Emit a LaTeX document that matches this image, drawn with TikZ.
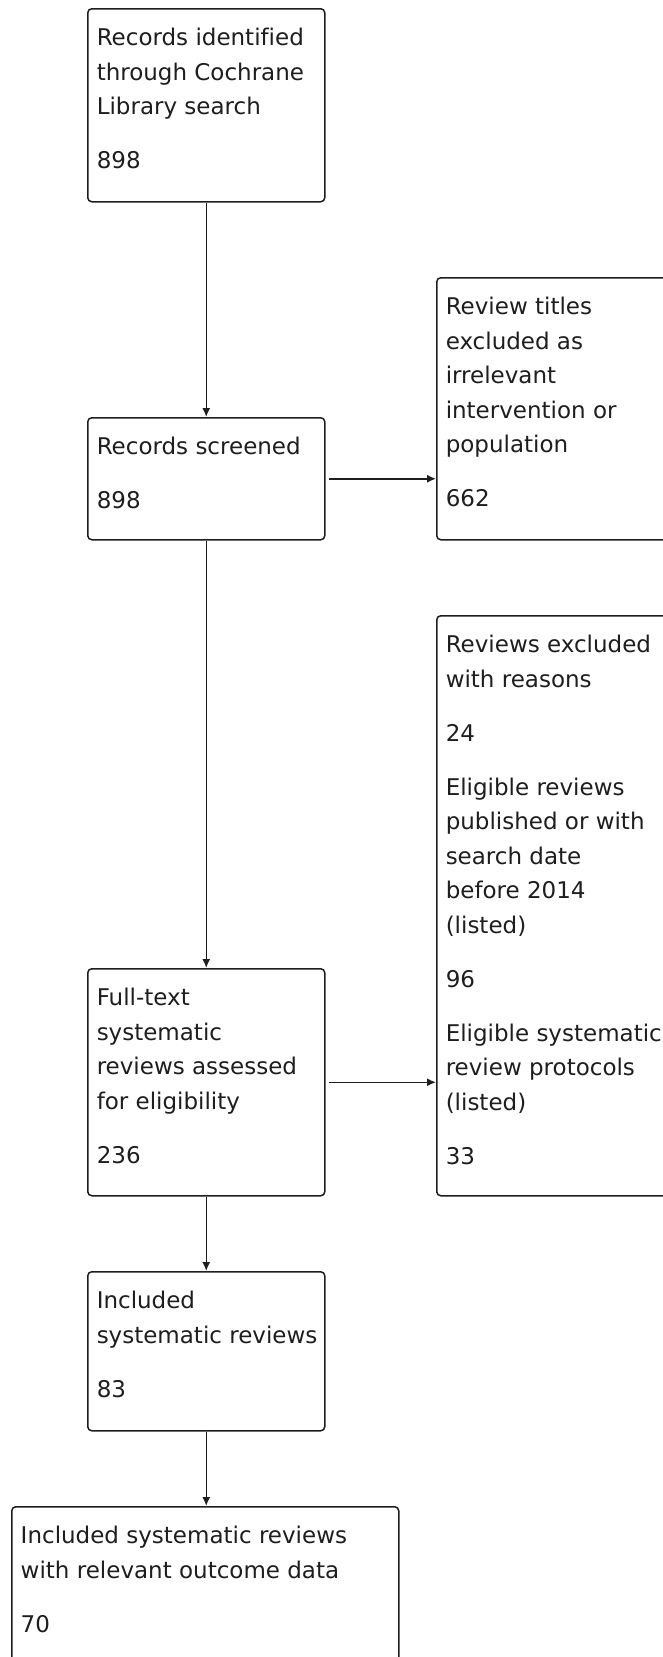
\documentclass[tikz,border=0pt]{standalone}
\usepackage{fontspec}
\setmainfont[Ligatures=NoCommon]{DejaVu Sans}
\usetikzlibrary{arrows.meta}
\definecolor{ink}{HTML}{1E1E1E}
\newcommand\bxt[3]{\parbox[c][#1pt][t]{#2pt}{\raggedright\leftskip=9pt\rule{0pt}{37pt}#3}}
\newcommand\pg{\\[19.5pt]}
\begin{document}
\begin{tikzpicture}[x=1pt,y=-1pt,
  flowbox/.style={draw=ink, line width=1.5pt, rounded corners=4pt, inner sep=0pt,
    anchor=north west, text=ink, font=\fontsize{23}{34.5}\selectfont},
  conn/.style={draw=ink, line width=1.5pt, -{Latex[length=9pt,width=8pt]}}]
\useasboundingbox (0,0) rectangle (662,1657);
\fill[white] (0,0) rectangle (662,1657);

\node[flowbox] (b1) at (87,8) {\bxt{193}{237}{Records identified\\through Cochrane\\Library search\pg 898}};
\node[flowbox] (b2) at (87,417) {\bxt{122}{237}{Records screened\pg 898}};
\node[flowbox] (b3) at (436,277) {\bxt{262}{250}{Review titles\\excluded as\\irrelevant\\intervention or\\population\pg 662}};
\node[flowbox] (b4) at (436,615) {\bxt{580}{250}{Reviews excluded\\with reasons\pg 24\pg Eligible reviews\\published or with\\search date\\before 2014\\(listed)\pg 96\pg Eligible systematic\\review protocols\\(listed)\pg 33}};
\node[flowbox] (b5) at (87,968) {\bxt{227}{237}{Full-text\\systematic\\reviews assessed\\for eligibility\pg 236}};
\node[flowbox] (b6) at (87,1271) {\bxt{159}{237}{Included\\systematic reviews\pg 83}};
\node[flowbox] (b7) at (11,1506) {\bxt{180}{387}{Included systematic reviews\\with relevant outcome data\pg 70}};

\draw[conn] (b1.south) -- (b2.north);
\draw[conn] ([xshift=3pt]b2.east) -- (b2.east -| b3.west);
\draw[conn] (b2.south) -- (b5.north);
\draw[conn] ([xshift=3pt]b5.east) -- (b5.east -| b4.west);
\draw[conn] (b5.south) -- (b6.north);
\draw[conn] (b6.south) -- (b6.south |- b7.north);
\end{tikzpicture}
\end{document}
